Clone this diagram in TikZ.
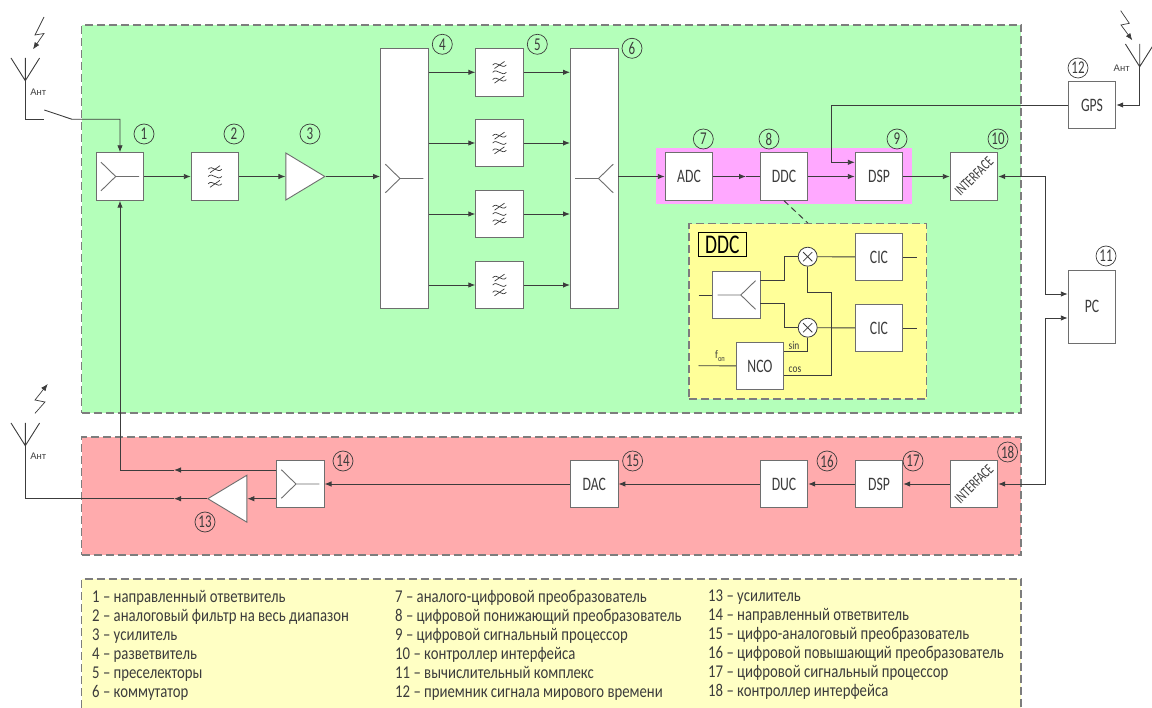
\documentclass[tikz,border=0pt]{standalone}
\usepackage{fontspec}
\setmainfont[FakeStretch=0.82]{Carlito}
\newfontfamily\narrowfont[FakeStretch=0.72]{Carlito}
\newfontfamily\antfont{Liberation Sans}
\usetikzlibrary{arrows.meta,shapes.geometric}
\definecolor{rxgreen}{HTML}{B4FFBA}
\definecolor{txred}{HTML}{FFABAD}
\definecolor{noteyellow}{HTML}{FFFFC4}
\definecolor{ddcyellow}{HTML}{FFFF99}
\definecolor{adcpink}{HTML}{FFA8FF}
\definecolor{inkgray}{HTML}{3C3C3C}
\definecolor{rimgray}{HTML}{6E6E6E}
\tikzset{
  blockbox/.style={draw=rimgray,fill=white,line width=0.9pt,minimum width=47.5pt,minimum height=47.5pt,inner sep=0pt,font=\narrowfont\fontsize{19}{19}\selectfont,text=inkgray},
  tallbox/.style={blockbox,minimum height=260pt},
  ampbox/.style={draw=rimgray,fill=white,line width=0.9pt,shape=isosceles triangle,isosceles triangle stretches,minimum width=47pt,minimum height=39pt,inner sep=0pt},
  zonebox/.style={draw=rimgray!90,line width=1.3pt,dash pattern=on 8pt off 4pt,inner sep=0pt},
  numring/.style={circle,draw=inkgray,line width=0.7pt,minimum size=20pt,inner sep=0pt,font=\narrowfont\fontsize{18}{18}\selectfont,text=inkgray},
  mixerring/.style={circle,draw=inkgray,fill=white,line width=0.8pt,minimum size=19pt,inner sep=0pt,
    path picture={\draw[inkgray,line width=0.8pt] (-4.6,-4.6) -- (4.6,4.6) (-4.6,4.6) -- (4.6,-4.6);}},
  wire/.style={draw=inkgray,line width=0.9pt},
  arrowwire/.style={wire,-{Latex[length=7pt,width=5.5pt]}},
  twowire/.style={wire,{Latex[length=7pt,width=5.5pt]}-{Latex[length=7pt,width=5.5pt]}},
  boltwire/.style={wire,line width=0.7pt,-{Latex[length=7pt,width=5.5pt]}},
  symline/.style={draw=rimgray,line width=0.9pt},
  antlabel/.style={font=\antfont\fontsize{9.5}{10}\selectfont,text=inkgray,inner sep=0pt},
  smalltext/.style={font=\fontsize{11.5}{11.5}\selectfont,text=inkgray,inner sep=0pt},
  notetext/.style={anchor=north west,align=left,inner sep=0pt,text=inkgray,font=\fontsize{18}{19}\selectfont},
  ifacelabel/.style={label={[rotate=45,inner sep=0pt,text=inkgray,font=\narrowfont\fontsize{15}{15}\selectfont]center:INTERFACE}},
  splitsym/.pic={\draw[symline] (-19,-14.3) -- (-4.3,0) -- (-19,14.3) (-4.3,0) -- (19,0);},
  filtersym/.pic={
    \foreach \q in {-7.3,0,7.3}
      \draw[inkgray,line width=0.7pt] (-6.8,\q) .. controls (-2.5,\q-5) and (2.5,\q+5) .. (6.8,\q);
    \draw[inkgray,line width=0.7pt] (-5,-3.8) -- (5,-10.8) (-5,10.8) -- (5,3.8);
  },
  antsym/.pic={\draw[wire] (-14.3,-22.7) -- (0,0) -- (14.3,-22.7) (0,-22.7) -- (0,0);}
}
\begin{document}
\begin{tikzpicture}[x=1pt,y=-1pt]
\useasboundingbox (0,0) rectangle (1152,708);

% zones
\node[zonebox,fill=rxgreen,minimum width=939.5pt,minimum height=388pt] (rxzone) at (551.25,219) {};
\node[zonebox,fill=txred,minimum width=939.5pt,minimum height=118pt] (txzone) at (551.25,496) {};
\fill[noteyellow] (81.5,708) rectangle (1021,579);
\draw[zonebox] (81.5,708) -- (81.5,579) -- (1021,579) -- (1021,708);
\node[fill=adcpink,minimum width=255.7pt,minimum height=56pt,inner sep=0pt] (adczone) at (783.85,176.3) {};
\node[zonebox,fill=ddcyellow,minimum width=237.7pt,minimum height=175.3pt] (ddczone) at (807.85,311.35) {};

% receive chain
\node[blockbox] (coupler) at (120,176.5) {};
\pic at (coupler) {splitsym};
\node[blockbox] (widefilter) at (215,176.5) {};
\pic at (widefilter) {filtersym};
\node[ampbox,anchor=apex] (rxamp) at (326,176.5) {};
\node[tallbox] (splitter) at (404.3,178.5) {};
\pic at (splitter) {splitsym};
\node[tallbox] (switchbox) at (594.2,178.5) {};
\pic[xscale=-1] at (switchbox) {splitsym};
\foreach \n/\ypos in {1/72.3,2/143,3/214,4/285}{
  \node[blockbox] (presel\n) at (499.5,\ypos) {};
  \pic at (presel\n) {filtersym};
  \draw[arrowwire] (splitter.east |- presel\n) -- (presel\n);
  \draw[arrowwire] (presel\n) -- (switchbox.west |- presel\n);
}
\node[blockbox] (adc) at (689,176.5) {ADC};
\node[blockbox] (ddc) at (784,176.5) {DDC};
\node[blockbox] (dsprx) at (879,176.5) {DSP};
\node[blockbox,ifacelabel] (ifacerx) at (974,176.5) {};
\node[blockbox] (gps) at (1092,105) {GPS};
\node[blockbox,minimum height=73pt] (pc) at (1092,306.5) {PC};

% DDC detail
\node[draw=black,line width=1.4pt,minimum width=48pt,minimum height=24pt,inner sep=0pt,font=\narrowfont\fontsize{27}{27}\selectfont] (ddctitle) at (722.3,244.8) {DDC};
\node[blockbox] (ddcsplit) at (736.5,295) {};
\pic[xscale=-1] at (ddcsplit) {splitsym};
\node[mixerring] (mixa) at (807.7,256.7) {};
\node[mixerring] (mixb) at (807.7,327.7) {};
\node[blockbox] (cica) at (879,257) {CIC};
\node[blockbox] (cicb) at (879,328) {CIC};
\node[blockbox] (nco) at (760,366) {NCO};
\coordinate (ddcin) at (698.7,295);
\coordinate (ncoin) at (698.7,365.7);
\coordinate (cicaout) at (916.7,257);
\coordinate (cicbout) at (916.7,328);
\node[smalltext] (sinlabel) at (794,346) {sin};
\node[smalltext] (coslabel) at (795,370) {cos};
\node[smalltext] (foplabel) at (720,356) {f\raisebox{-2.5pt}{\fontsize{8}{8}\selectfont оп}};
\draw[wire] (ddcin) -- (ddcsplit);
\draw[wire] (ncoin) -- (nco);
\draw[wire] (760,280.3) -- (784,280.3) -- (784,256.7) -- (mixa);
\draw[wire] (760,303.7) -- (784,303.7) -- (784,327.7) -- (mixb);
\draw[wire] (mixa) -- (cica);
\draw[wire] (mixb) -- (cicb);
\draw[wire] (cica) -- (cicaout);
\draw[wire] (cicb) -- (cicbout);
\draw[wire] (nco.east |- 0,351.7) -| (mixb);
\draw[wire] (nco.east |- 0,375.3) -- (831.3,375.3) -- (831.3,292.3) -- (807.7,292.3) -- (mixa);
\draw[wire,line width=1pt,dash pattern=on 6pt off 4pt] (ddc.south) -- (ddczone.north);

% transmit chain
\node[blockbox] (txcoupler) at (300.3,484) {};
\pic at (txcoupler) {splitsym};
\node[ampbox,shape border rotate=180,anchor=apex] (txamp) at (206.7,498.7) {};
\node[blockbox] (dac) at (594.2,484) {DAC};
\node[blockbox] (duc) at (784,484) {DUC};
\node[blockbox] (dsptx) at (879,484) {DSP};
\node[blockbox,ifacelabel] (ifacetx) at (974,484) {};

% antennas
\coordinate (antrx) at (25.3,80.7);
\coordinate (antgps) at (1139.7,66.7);
\coordinate (anttx) at (25.3,445.7);
\coordinate (antrxfoot) at (25.3,119.3);
\coordinate (antrxend) at (44.3,119.3);
\coordinate (antrxarm) at (44.3,110);
\coordinate (antrxknee) at (72,119.3);
\pic at (antrx) {antsym};
\pic at (antgps) {antsym};
\pic at (anttx) {antsym};
\draw[boltwire] (44,17) -- (35,35) -- (44,33.5) -- (33,49.3);
\draw[boltwire] (1120.7,10.7) -- (1129.3,23.3) -- (1121,25) -- (1132.3,40.3);
\draw[boltwire] (35,413.3) -- (45,402) -- (35,400) -- (47.7,384);
\node[antlabel] (antrxlabel) at (38.3,92.5) {Ант};
\node[antlabel] (antgpslabel) at (1121.7,68.3) {Ант};
\node[antlabel] (anttxlabel) at (38.3,456.5) {Ант};
\draw[wire] (antrx) -- (antrxfoot) -- (antrxend);
\draw[arrowwire] (antrxarm) -- (antrxknee) -| (coupler.north);
\draw[arrowwire] (antgps) |- (gps.east);

% receive connectors
\draw[arrowwire] (coupler) -- (widefilter);
\draw[arrowwire] (widefilter) -- (rxamp.lower side);
\draw[arrowwire] (rxamp.apex) -- (splitter.west |- rxamp.apex);
\draw[arrowwire] (switchbox.east |- adc) -- (adc);
\coordinate (adcmid) at (746,176.5);
\draw[arrowwire] (adc) -- (adcmid);
\draw[wire] (adcmid) -- (ddc);
\draw[arrowwire] (ddc) -- (dsprx);
\draw[arrowwire] (dsprx) -- (ifacerx);
\draw[arrowwire] (gps.west) -- (831.3,105) -- (831.3,162.3) -- (dsprx.west |- 0,162.3);
\draw[twowire] (ifacerx.east) -- (1045,176.5) -- (1045,294) -- (pc.west |- 0,294);
\draw[twowire] (ifacetx.east) -- (1045,484) -- (1045,318) -- (pc.west |- 0,318);

% transmit connectors
\draw[arrowwire] (ifacetx) -- (dsptx);
\draw[arrowwire] (dsptx) -- (duc);
\draw[arrowwire] (duc) -- (dac);
\draw[arrowwire] (dac) -- (txcoupler);
\draw[arrowwire] (txcoupler.west |- txamp.lower side) -- (txamp.lower side);
\coordinate (txupmid) at (174,470);
\coordinate (txantmid) at (174,498.7);
\draw[arrowwire] (txcoupler.west |- txupmid) -- (txupmid);
\draw[arrowwire] (txupmid) -| (coupler.south);
\draw[arrowwire] (txamp.apex) -- (txantmid);
\draw[wire] (txantmid) -| (anttx);

% numbers
\foreach \n/\xpos/\ypos in {1/144/134,2/234/134,3/310/134,4/442.3/44.3,5/537.3/44.3,6/632/48.3,
  7/703.3/139,8/769/139,9/897/139,10/998/139,11/1106/256,12/1078/68,13/205/522,14/343/461,
  15/632.6/461,16/827/461,17/913/461,18/1007.6/452}
  \node[numring] (num\n) at (\xpos,\ypos) {\n};

% notes
\node[notetext] (notesa) at (92,590) {1 – направленный ответвитель\\2 – аналоговый фильтр на весь диапазон\\3 – усилитель\\4 – разветвитель\\5 – преселекторы\\6 – коммутатор};
\node[notetext] (notesb) at (395,590) {7 – аналого-цифровой преобразователь\\8 – цифровой понижающий преобразователь\\9 – цифровой сигнальный процессор\\10 – контроллер интерфейса\\11 – вычислительный комплекс\\12 – приемник сигнала мирового времени};
\node[notetext] (notesc) at (708,590) {13 – усилитель\\14 – направленный ответвитель\\15 – цифро-аналоговый преобразователь\\16 – цифровой повышающий преобразователь\\17 – цифровой сигнальный процессор\\18 – контроллер интерфейса};
\end{tikzpicture}
\end{document}
